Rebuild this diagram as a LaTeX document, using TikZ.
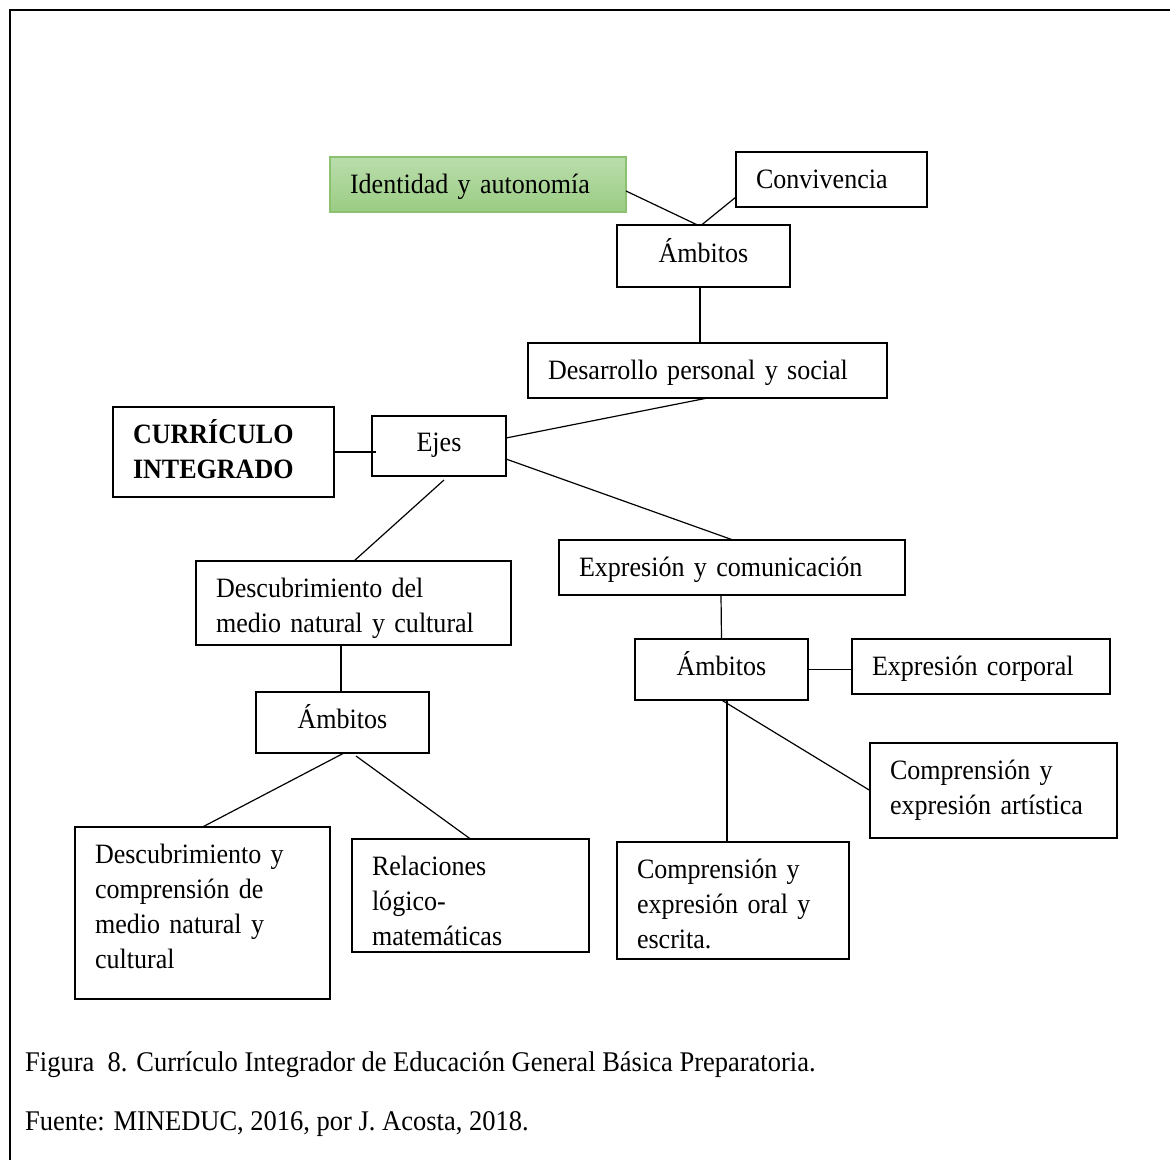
\documentclass[tikz,border=0pt]{standalone}
\usepackage{fontspec}
\setmainfont[FakeStretch=0.93]{Liberation Serif}
% first-line strut (top of box to first baseline) and last-line strut (fills the box height)
\newcommand\tp{\rule{0pt}{36pt}}
\newcommand\btm[2]{\rule[\dimexpr 36pt+35.3pt*#2-#1pt\relax]{0pt}{\dimexpr #1pt-36pt-35.3pt*#2\relax}}
\begin{document}
\begin{tikzpicture}[x=1pt,y=-1pt,
  bx/.style={draw=black, line width=1.3pt, inner ysep=0pt, inner xsep=20pt, outer sep=0pt,
     align=left, font=\fontsize{28}{35.3}\selectfont},
  cb/.style={draw=black, line width=1.3pt, inner sep=0pt, outer sep=0pt,
     align=center, font=\fontsize{28}{35.3}\selectfont},
  ln/.style={line width=1.2pt},
  captxt/.style={anchor=base west, inner sep=0pt, font=\fontsize{28.5}{34}\selectfont}]
\useasboundingbox (0,0) rectangle (1170,1160);
\fill[white] (0,0) rectangle (1170,1160);
\draw[line width=2pt] (10,1160) -- (10,10) -- (1170,10);
% boxes
\node[bx, draw={rgb,255:red,140;green,193;blue,111}, top color={rgb,255:red,186;green,221;blue,172}, bottom color={rgb,255:red,154;green,204;blue,131},
  text width=256pt, minimum height=55pt] (ident) at (478,184.5) {\tp Identidad y autonomía\btm{55}{0}};
\node[bx, text width=151pt, minimum height=55pt] (conv) at (831.5,179.5) {\tp Convivencia\btm{55}{0}};
\node[cb, minimum width=173pt, minimum height=62pt] (amb1) at (703.5,256) {\rule{0pt}{37pt}Ámbitos\rule[-25pt]{0pt}{25pt}};
\node[bx, text width=319pt, minimum height=55pt] (desa) at (707.5,370.5) {\tp Desarrollo personal y social\btm{55}{0}};
\node[bx, text width=181pt, minimum height=90pt, font=\fontsize{28}{35.3}\selectfont\bfseries] (curr) at (223.5,452) {\tp CURRÍCULO\\INTEGRADO\btm{90}{1}};
\node[cb, minimum width=134pt, minimum height=60pt] (ejes) at (439,446) {\rule{0pt}{35pt}Ejes\rule[-25pt]{0pt}{25pt}};
\node[bx, text width=275pt, minimum height=84pt] (desc) at (353.5,603) {\tp Descubrimiento del\\medio natural y cultural\btm{84}{1}};
\node[bx, text width=306pt, minimum height=55pt] (expr) at (732,567.5) {\tp Expresión y comunicación\btm{55}{0}};
\node[cb, minimum width=173pt, minimum height=61pt] (amb2) at (342.5,722.5) {\tp Ámbitos\btm{61}{0}};
\node[cb, minimum width=173pt, minimum height=61pt] (amb3) at (721.5,669.5) {\rule{0pt}{36.5pt}Ámbitos\rule[-24.5pt]{0pt}{24.5pt}};
\node[bx, text width=218pt, minimum height=55pt] (corp) at (981,666.5) {\tp Expresión corporal\btm{55}{0}};
\node[bx, text width=207pt, minimum height=95pt] (arte) at (993.5,790.5) {\tp Comprensión y\\expresión artística\btm{95}{1}};
\node[bx, text width=215pt, minimum height=172pt] (dcm) at (202.5,913) {\tp Descubrimiento y\\comprensión de\\medio natural y\\cultural\btm{172}{3}};
\node[bx, text width=197pt, minimum height=113pt] (rel) at (470.5,895.5) {\tp Relaciones\\lógico-\\matemáticas\btm{113}{2}};
\node[bx, text width=192pt, minimum height=117pt] (oral) at (733,900.5) {\tp Comprensión y\\expresión oral y\\escrita.\btm{117}{2}};
% connectors
\draw[ln] ([yshift=-6.5pt]ident.east) -- ([xshift=-6pt]amb1.north);
\draw[ln] ([yshift=-17.5pt]conv.west) -- ([xshift=-2pt]amb1.north);
\draw[ln] ([xshift=-3.5pt]amb1.south) -- ([xshift=-7.5pt]desa.north);
\draw[ln] (desa.south) -- ([yshift=8pt]ejes.east);
\draw[ln] (curr.east) -- ([xshift=4pt,yshift=-6pt]ejes.west);
\draw[ln] ([yshift=-13pt]ejes.east) -- ([xshift=1pt]expr.north);
\draw[ln] ([xshift=5pt,yshift=-4pt]ejes.south) -- ([xshift=0.5pt]desc.north);
\draw[ln] ([xshift=-12.5pt]desc.south) -- ([xshift=-1.5pt]amb2.north);
\draw[ln] ([xshift=1.5pt]amb2.south) -- (dcm.north);
\draw[ln] ([xshift=13.5pt,yshift=-3pt]amb2.south) -- (rel.north);
\draw[ln] ([xshift=-11pt]expr.south) -- (amb3.north);
\draw[ln] (amb3.east) -- (corp.west |- amb3.east);
\draw[ln] ([xshift=5.5pt]amb3.south) -- ([xshift=-6pt]oral.north);
\draw[ln] (amb3.south) -- (arte.west);
% caption
\node[captxt] (c1) at (25,1071) {Figura \ 8. Currículo Integrador de Educación General Básica Preparatoria.};
\node[captxt] (c2) at (25,1130) {Fuente: MINEDUC, 2016, por J. Acosta, 2018.};
\end{tikzpicture}
\end{document}
